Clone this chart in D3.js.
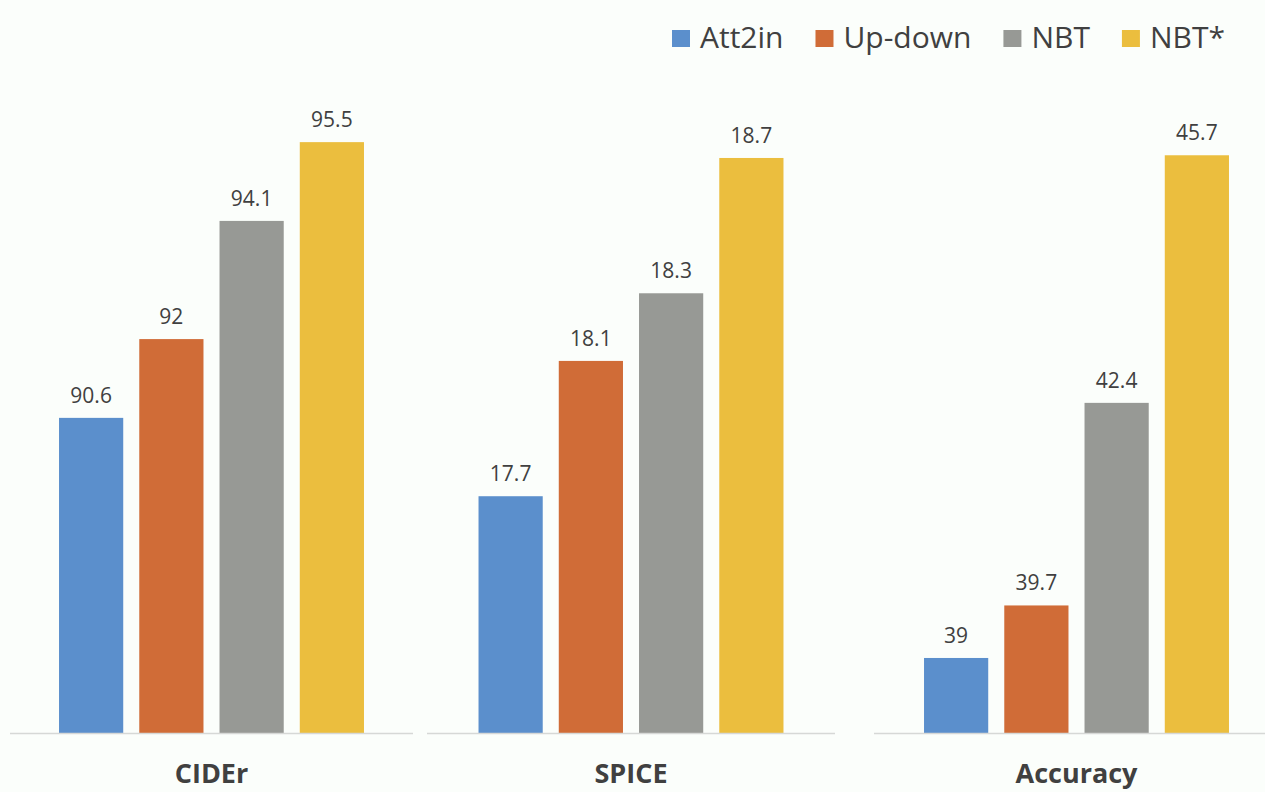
<!DOCTYPE html>
<html>
<head>
<meta charset="utf-8">
<script src="https://cdn.jsdelivr.net/npm/d3@7"></script>
<style>
  html, body { margin: 0; padding: 0; background: #fbfefb; }
  svg { display: block; }
</style>
</head>
<body>
<svg id="chart" width="1265" height="792"></svg>
<script>
// Metric panels and the four methods compared in each
const metrics = ["CIDEr", "SPICE", "Accuracy"];
const methods = ["Att2in", "Up-down", "NBT", "NBT*"];

// Scores per method, one array per metric
const ciderValues = [90.6, 92, 94.1, 95.5];
const spiceValues = [17.7, 18.1, 18.3, 18.7];
const accuracyValues = [39, 39.7, 42.4, 45.7];

// Value-axis extent of each panel (axes are hidden)
const ciderDomain = [85, 96];
const spiceDomain = [17, 18.83];
const accuracyDomain = [38, 46.25];

const colors = ["#5b8fcc", "#d06c37", "#979995", "#ebbe3e"];
const textColor = "#404040";

const panels = [
  { name: metrics[0], values: ciderValues, domain: ciderDomain, left: 10, width: 403 },
  { name: metrics[1], values: spiceValues, domain: spiceDomain, left: 427, width: 408 },
  { name: metrics[2], values: accuracyValues, domain: accuracyDomain, left: 874, width: 405 }
];

const svg = d3.select("#chart");
const baseY = 733, topY = 114;
const color = d3.scaleOrdinal().domain(methods).range(colors);

panels.forEach(p => {
  const g = svg.append("g");
  const cx = p.left + p.width / 2;
  const x = d3.scaleBand().domain(methods)
    .range([cx - 160.5, cx + 160.5])
    .paddingInner(0.2).paddingOuter(0.1);
  const y = d3.scaleLinear().domain(p.domain).range([baseY, topY]);
  const rows = methods.map((m, i) => ({ method: m, value: p.values[i] }));

  g.selectAll("rect.bar").data(rows).join("rect")
    .attr("class", "bar")
    .attr("x", d => x(d.method))
    .attr("width", x.bandwidth())
    .attr("y", d => y(d.value))
    .attr("height", d => baseY - y(d.value))
    .attr("fill", d => color(d.method));

  g.selectAll("text.val").data(rows).join("text")
    .attr("class", "val")
    .attr("x", d => x(d.method) + x.bandwidth() / 2)
    .attr("y", d => y(d.value) - 15)
    .attr("text-anchor", "middle")
    .attr("font-family", "'Open Sans', sans-serif")
    .attr("font-size", 21)
    .attr("fill", textColor)
    .text(d => d.value);

  // category baseline
  g.append("line")
    .attr("x1", p.left).attr("x2", p.left + p.width)
    .attr("y1", baseY + 0.5).attr("y2", baseY + 0.5)
    .attr("stroke", "#d6d8d6").attr("stroke-width", 1.5);

  g.append("text")
    .attr("x", cx).attr("y", 783)
    .attr("text-anchor", "middle")
    .attr("font-family", "'Open Sans', sans-serif")
    .attr("font-weight", "bold")
    .attr("font-size", 27)
    .attr("fill", textColor)
    .text(p.name);
});

// Legend, laid out left to right from measured text widths
const legend = svg.append("g");
let lx = 672;
methods.forEach(m => {
  legend.append("rect")
    .attr("x", lx).attr("y", 30).attr("width", 18).attr("height", 17)
    .attr("fill", color(m));
  const t = legend.append("text")
    .attr("x", lx + 28).attr("y", 48)
    .attr("font-family", "'Open Sans', sans-serif")
    .attr("font-size", 30)
    .attr("fill", textColor)
    .text(m);
  lx += 28 + t.node().getComputedTextLength() + 32;
});
</script>
</body>
</html>
